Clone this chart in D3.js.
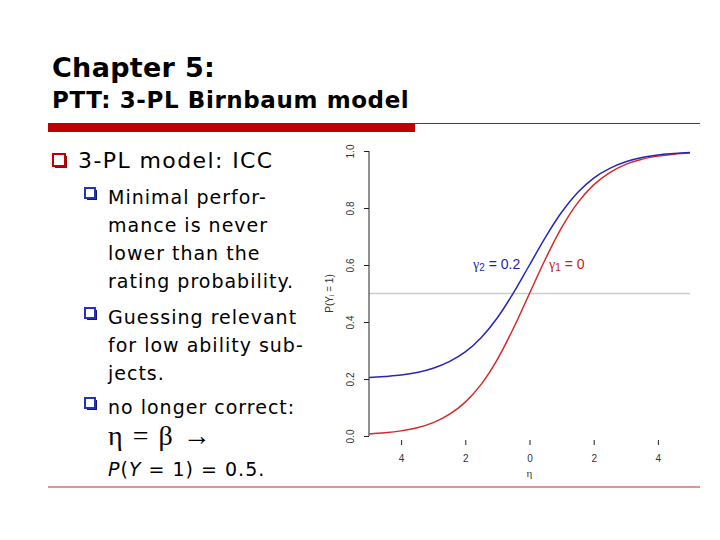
<!DOCTYPE html>
<html>
<head>
<meta charset="utf-8">
<script src="https://cdn.jsdelivr.net/npm/d3@7"></script>
<style>
  html, body { margin: 0; padding: 0; background: #fff; }
  svg { display: block; }
</style>
</head>
<body>
<div id="slide"></div>
<script>
// ICC curves: eta from -5 to 5, step 0.5
const etaValues = [-5, -4.5, -4, -3.5, -3, -2.5, -2, -1.5, -1, -0.5, 0,
  0.5, 1, 1.5, 2, 2.5, 3, 3.5, 4, 4.5, 5];
const pGamma0 = [0.007, 0.011, 0.018, 0.029, 0.047, 0.076, 0.119, 0.182, 0.269, 0.378, 0.5,
  0.622, 0.731, 0.818, 0.881, 0.924, 0.953, 0.971, 0.982, 0.989, 0.993];
const pGamma02 = [0.205, 0.209, 0.214, 0.223, 0.238, 0.261, 0.295, 0.346, 0.415, 0.502, 0.6,
  0.698, 0.785, 0.854, 0.905, 0.939, 0.962, 0.977, 0.986, 0.991, 0.995];

const xTicks = [-4, -2, 0, 2, 4];
const xTickLabels = ["4", "2", "0", "2", "4"]; // minus signs are lost in the source
const yTicks = [0, 0.2, 0.4, 0.6, 0.8, 1.0];
const refLine = 0.5;

const titleText = "Chapter 5:";
const subtitleText = "PTT: 3-PL Birnbaum model";
const mainBullet = "3-PL model: ICC";
const subBullets = [
  ["Minimal perfor-", "mance is never", "lower than the", "rating probability."],
  ["Guessing relevant", "for low ability sub-", "jects."],
  ["no longer correct:"],
];

const W = 720, H = 540;
const svg = d3.select("#slide").append("svg").attr("width", W).attr("height", H);
const sans = "Verdana, 'DejaVu Sans', sans-serif";
const darkRed = "#c00000";

// --- header
svg.append("text").attr("x", 52).attr("y", 77)
  .attr("font-family", sans).attr("font-weight", "bold").attr("font-size", 27)
  .attr("letter-spacing", 0.3)
  .text(titleText);
svg.append("text").attr("x", 52).attr("y", 108)
  .attr("font-family", sans).attr("font-weight", "bold").attr("font-size", 23)
  .attr("letter-spacing", 0.6)
  .text(subtitleText);
svg.append("rect").attr("x", 48).attr("y", 123).attr("width", 367).attr("height", 9).attr("fill", darkRed);
svg.append("line").attr("x1", 415).attr("x2", 700).attr("y1", 123.5).attr("y2", 123.5)
  .attr("stroke", "#b01010").attr("stroke-width", 1);
svg.append("line").attr("x1", 48).attr("x2", 700).attr("y1", 487).attr("y2", 487)
  .attr("stroke", "#b03030").attr("stroke-width", 1);

// --- bullets
function bulletBox(x, y, size, color, shade) {
  const g = svg.append("g");
  g.append("rect").attr("x", x + 2).attr("y", y + 2).attr("width", size).attr("height", size).attr("fill", shade);
  g.append("rect").attr("x", x).attr("y", y).attr("width", size).attr("height", size)
    .attr("fill", "#fff").attr("stroke", color).attr("stroke-width", 2);
}
bulletBox(53, 154, 12, darkRed, "#801010");
svg.append("text").attr("x", 78).attr("y", 168)
  .attr("font-family", sans).attr("font-size", 22).attr("letter-spacing", 1.4).text(mainBullet);

const lineH = 28;
const blockTops = [204, 324, 414];
subBullets.forEach((lines, i) => {
  bulletBox(85, blockTops[i] - 16, 10, "#2233bb", "#101080");
  lines.forEach((t, j) => {
    svg.append("text").attr("x", 108).attr("y", blockTops[i] + j * lineH)
      .attr("font-family", sans).attr("font-size", 19).attr("letter-spacing", 1).text(t);
  });
});
svg.append("text").attr("x", 108).attr("y", 445)
  .attr("font-family", "'Liberation Serif', 'Times New Roman', serif").attr("font-size", 28)
  .attr("letter-spacing", 1.5)
  .text("\u03b7 = \u03b2 \u2192");
const pLine = svg.append("text").attr("x", 108).attr("y", 476)
  .attr("font-family", sans).attr("font-size", 19).attr("letter-spacing", 1);
pLine.append("tspan").attr("font-style", "italic").text("P");
pLine.append("tspan").text("(");
pLine.append("tspan").attr("font-style", "italic").text("Y");
pLine.append("tspan").text(" = 1) = 0.5.");

// --- ICC plot
const x = d3.scaleLinear().domain([-5, 5]).range([369, 690]);
const y = d3.scaleLinear().domain([0, 1]).range([436, 151]);
const plot = svg.append("g");

plot.append("line").attr("x1", x(-5)).attr("x2", x(5))
  .attr("y1", y(refLine)).attr("y2", y(refLine))
  .attr("stroke", "#cccccc").attr("stroke-width", 1.5);

const xAxis = plot.append("g").attr("transform", "translate(0,440)")
  .call(d3.axisBottom(x).tickValues(xTicks).tickSize(5).tickPadding(10)
    .tickFormat((d, i) => xTickLabels[i]));
xAxis.select(".domain").remove();
xAxis.selectAll("line").attr("stroke", "#222");
xAxis.selectAll("text").attr("font-family", "'Liberation Sans', Arial, sans-serif")
  .attr("font-size", 10).attr("fill", "#333");

const yAxis = plot.append("g").attr("transform", `translate(${x(-5)},0)`)
  .call(d3.axisLeft(y).tickValues(yTicks).tickSize(5).tickFormat(d3.format(".1f")));
yAxis.select(".domain").attr("stroke", "#222").attr("d", `M0,${y(1)}V${y(0)}`);
yAxis.selectAll("line").attr("stroke", "#222");
yAxis.selectAll("text")
  .attr("font-family", "'Liberation Sans', Arial, sans-serif").attr("font-size", 10).attr("fill", "#333")
  .attr("x", null).attr("dy", null)
  .attr("text-anchor", "middle")
  .attr("transform", "translate(-15,0) rotate(-90)");

plot.append("text").attr("transform", `translate(333,${y(0.5)}) rotate(-90)`)
  .attr("text-anchor", "middle").attr("font-family", "'Liberation Sans', Arial, sans-serif")
  .attr("font-size", 10).attr("fill", "#333").text("P(Y\u1d62 = 1)");
plot.append("text").attr("x", x(0)).attr("y", 477).attr("text-anchor", "middle")
  .attr("font-family", "'Liberation Serif', serif").attr("font-size", 11).attr("fill", "#333")
  .text("\u03b7");

const line = d3.line().x((d, i) => x(etaValues[i])).y(d => y(d)).curve(d3.curveMonotoneX);
plot.append("path").datum(pGamma0).attr("d", line)
  .attr("fill", "none").attr("stroke", "#d42a2a").attr("stroke-width", 1.5);
plot.append("path").datum(pGamma02).attr("d", line)
  .attr("fill", "none").attr("stroke", "#2626b8").attr("stroke-width", 1.5);

function gammaLabel(xPos, color, sub, val) {
  const t = plot.append("text").attr("x", xPos).attr("y", 269)
    .attr("font-family", "'Liberation Sans', Arial, sans-serif").attr("font-size", 14).attr("fill", color);
  t.append("tspan").attr("font-family", "'Liberation Serif', serif").text("\u03b3");
  t.append("tspan").attr("font-size", 10).attr("dy", 2).text(sub);
  t.append("tspan").attr("dy", -2).text(" = " + val);
}
gammaLabel(473, "#1e1ea6", "2", "0.2");
gammaLabel(549, "#c42020", "1", "0");
</script>
</body>
</html>
